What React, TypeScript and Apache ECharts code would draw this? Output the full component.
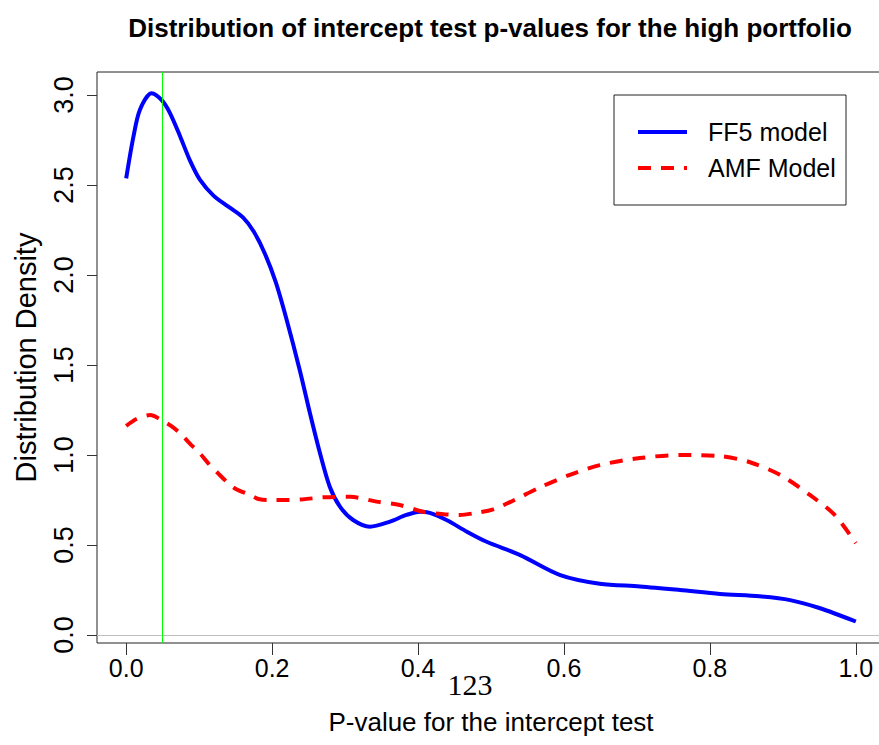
import React, { useEffect, useRef } from "react";
import * as echarts from "echarts";

const chartTitle = "Distribution of intercept test p-values for the high portfolio";
const xAxisName = "P-value for the intercept test";
const yAxisName = "Distribution Density";
const seriesNames = ["FF5 model", "AMF Model"];
const xTicks = [0, 0.2, 0.4, 0.6, 0.8, 1.0];
const yTicks = [0, 0.5, 1.0, 1.5, 2.0, 2.5, 3.0];
const cutoff = 0.05;

const ff5X = [0, 0.01, 0.019, 0.035, 0.049, 0.06, 0.074, 0.087, 0.101, 0.12, 0.14, 0.16, 0.175, 0.19, 0.205, 0.22, 0.238, 0.252, 0.265, 0.279, 0.293, 0.311, 0.334, 0.3615, 0.384, 0.403, 0.416, 0.439, 0.467, 0.494, 0.54, 0.595, 0.649, 0.704, 0.759, 0.814, 0.868, 0.91, 0.95, 1.0];
const ff5Y = [2.537, 2.77, 2.92, 3.01, 2.97, 2.9, 2.77, 2.64, 2.53, 2.44, 2.38, 2.32, 2.24, 2.12, 1.96, 1.75, 1.47, 1.23, 1.02, 0.824, 0.713, 0.639, 0.602, 0.63, 0.667, 0.685, 0.679, 0.639, 0.574, 0.518, 0.444, 0.333, 0.285, 0.27, 0.25, 0.228, 0.215, 0.194, 0.15, 0.075];

const amfX = [0, 0.014, 0.033, 0.046, 0.062, 0.074, 0.087, 0.101, 0.1125, 0.126, 0.14, 0.151, 0.17, 0.183, 0.2, 0.22, 0.243, 0.27, 0.307, 0.343, 0.375, 0.407, 0.439, 0.457, 0.476, 0.503, 0.53, 0.567, 0.608, 0.649, 0.704, 0.759, 0.814, 0.855, 0.896, 0.937, 0.971, 1.0];
const amfY = [1.161, 1.2, 1.222, 1.2, 1.16, 1.12, 1.065, 1.009, 0.954, 0.898, 0.843, 0.81, 0.778, 0.754, 0.75, 0.75, 0.754, 0.765, 0.768, 0.741, 0.722, 0.685, 0.67, 0.667, 0.676, 0.698, 0.746, 0.82, 0.89, 0.944, 0.983, 1.0, 0.994, 0.96, 0.89, 0.778, 0.667, 0.51];

const pageNumber = "123";
const FONT = '"Liberation Sans", Arial, sans-serif';

export default function App() {
  const ref = useRef<HTMLDivElement>(null);
  useEffect(() => {
    if (!ref.current) return;
    const chart = echarts.init(ref.current, null, { renderer: "svg" });
    const ff5Data = ff5X.map((x, i) => [x, ff5Y[i]]);
    const amfData = amfX.map((x, i) => [x, amfY[i]]);
    const option: any = {
      animation: false,
      backgroundColor: "#ffffff",
      grid: {
        left: 97,
        top: 72,
        right: -6,
        bottom: 102,
        show: true,
        borderColor: "#222",
        borderWidth: 1,
        containLabel: false,
        outerBoundsMode: "none",
      },
      xAxis: {
        type: "value",
        min: -0.04,
        max: 1.04,
        splitLine: { show: false },
        axisLine: { show: false, onZero: false },
        axisTick: { show: true, customValues: xTicks, length: 12, lineStyle: { color: "#333" } },
        axisLabel: {
          customValues: xTicks,
          formatter: (v: number) => v.toFixed(1),
          fontSize: 25,
          fontFamily: FONT,
          color: "#000",
          margin: 12,
        },
        name: xAxisName,
        nameLocation: "middle",
        nameGap: 66,
        nameMoveOverlap: false,
        nameTextStyle: { fontSize: 26, fontFamily: FONT, color: "#000" },
      },
      yAxis: {
        type: "value",
        min: -0.0444,
        max: 3.128,
        splitLine: { show: false },
        axisLine: { show: false, onZero: false },
        axisTick: { show: true, customValues: yTicks, length: 10, lineStyle: { color: "#333" } },
        axisLabel: {
          customValues: yTicks,
          formatter: (v: number) => v.toFixed(1),
          rotate: 90,
          align: "center",
          verticalAlign: "bottom",
          fontSize: 27,
          fontFamily: FONT,
          color: "#000",
          margin: 20,
        },
        name: yAxisName,
        nameLocation: "middle",
        nameGap: 57,
        nameRotate: 90,
        nameMoveOverlap: false,
        nameTextStyle: { fontSize: 29, fontFamily: FONT, color: "#000" },
      },
      legend: {
        data: seriesNames,
        orient: "vertical",
        left: 636,
        top: 119.5,
        itemWidth: 49,
        itemHeight: 14,
        itemGap: 11,
        padding: 0,
        itemStyle: { opacity: 0, borderWidth: 0 },
        lineStyle: { width: 4 },
        textStyle: { fontSize: 25, lineHeight: 25, fontFamily: FONT, color: "#000", padding: [0, 0, 0, 16] },
      },
      graphic: [
        {
          type: "text",
          x: 490,
          y: 28,
          style: {
            text: chartTitle,
            fontSize: 26,
            fontWeight: "bold",
            fontFamily: FONT,
            fill: "#000",
            align: "center",
            verticalAlign: "middle",
            textAlign: "center",
            textVerticalAlign: "middle",
          },
        },
        {
          type: "rect",
          shape: { x: 614, y: 95, width: 232, height: 110 },
          style: { fill: "none", stroke: "#222", lineWidth: 1 },
          z: 5,
        },
        {
          type: "text",
          x: 470,
          y: 684,
          style: {
            text: pageNumber,
            fontSize: 30,
            fontFamily: '"Liberation Serif", "DejaVu Serif", serif',
            fill: "#000",
            align: "center",
            verticalAlign: "middle",
            textAlign: "center",
            textVerticalAlign: "middle",
          },
        },
      ],
      series: [
        {
          name: seriesNames[0],
          type: "line",
          data: ff5Data,
          showSymbol: false,
          symbol: "none",
          smooth: 0.3,
          lineStyle: { color: "#0000ff", width: 4, type: "solid" },
          itemStyle: { color: "#0000ff" },
          z: 3,
          markLine: {
            silent: true,
            symbol: ["none", "none"],
            label: { show: false },
            animation: false,
            data: [
              { yAxis: 0, lineStyle: { color: "#bebebe", width: 1, type: "solid" } },
              { xAxis: cutoff, lineStyle: { color: "#00ff00", width: 1, type: "solid" } },
            ],
          },
        },
        {
          name: seriesNames[1],
          type: "line",
          data: amfData,
          showSymbol: false,
          symbol: "none",
          smooth: 0.3,
          lineStyle: { color: "#ff0000", width: 4, type: [13, 10] },
          itemStyle: { color: "#ff0000" },
          z: 3,
        },
      ],
    };
    chart.setOption(option);
    return () => chart.dispose();
  }, []);
  return (
    <div
      ref={ref}
      style={{ position: "fixed", left: 0, top: 0, width: 879, height: 745, background: "#fff" }}
    />
  );
}
